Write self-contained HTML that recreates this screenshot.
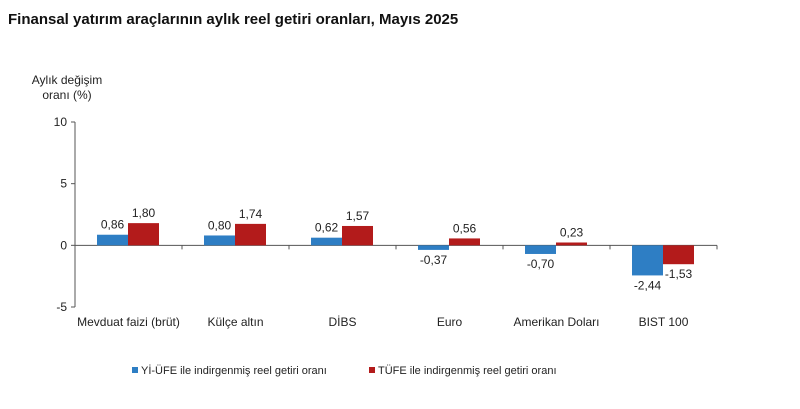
<!DOCTYPE html>
<html><head><meta charset="utf-8"><style>
body{margin:0;background:#fff;width:800px;height:404px;overflow:hidden;font-family:"Liberation Sans",Arial,sans-serif}
</style></head><body>
<svg width="800" height="404" xmlns="http://www.w3.org/2000/svg" font-family="Liberation Sans, Arial, sans-serif">
<text x="8" y="24" font-size="15" font-weight="bold" fill="#111">Finansal yatırım araçlarının aylık reel getiri oranları, Mayıs 2025</text>
<text x="67" y="84" font-size="12" fill="#222" text-anchor="middle">Aylık değişim</text>
<text x="67" y="99" font-size="12" fill="#222" text-anchor="middle">oranı (%)</text>
<g id="plot"></g>
<g>
<rect x="132" y="367" width="6" height="6" fill="#2e7ec4"/>
<text x="141" y="374" font-size="11" fill="#222">Yİ-ÜFE ile indirgenmiş reel getiri oranı</text>
<rect x="369" y="367" width="6" height="6" fill="#b31b1b"/>
<text x="378" y="374" font-size="11" fill="#222">TÜFE ile indirgenmiş reel getiri oranı</text>
</g>
</svg>
<script>
const categories=["Mevduat faizi (brüt)","Külçe altın","DİBS","Euro","Amerikan Doları","BIST 100"];
const yiufe=[0.86,0.80,0.62,-0.37,-0.70,-2.44];
const tufe=[1.80,1.74,1.57,0.56,0.23,-1.53];
const yTicks=[10,5,0,-5];
const NS="http://www.w3.org/2000/svg";
const g=document.getElementById('plot');
const x0=75,cw=107,yTop=122,yBot=307,ymax=10,ymin=-5;
const y=v=>yTop+(ymax-v)/(ymax-ymin)*(yBot-yTop);
function el(t,a){const e=document.createElementNS(NS,t);for(const k in a)e.setAttribute(k,a[k]);g.appendChild(e);return e;}
const fmt=v=>v.toFixed(2).replace('.',',');
let ax=el('line',{x1:x0,y1:yTop,x2:x0,y2:yBot,stroke:'#555'});


yTicks.forEach(t=>{
 const l=el('line',{x1:x0-4,x2:x0,y1:y(t),y2:y(t),stroke:'#555'});
 
 
 const tx=el('text',{x:x0-8,y:y(t)+4,'font-size':12,'text-anchor':'end',fill:'#222'});
 tx.textContent=t;
 
 
});
const xEnd=x0+cw*categories.length;
let xa=el('line',{x1:x0,x2:xEnd,y1:y(0),y2:y(0),stroke:'#555'});


categories.forEach((c,i)=>{
 const cx=x0+cw*i;
 const tk=el('line',{x1:cx+cw,x2:cx+cw,y1:y(0),y2:y(0)+4,stroke:'#555'});
 
 
 const lb=el('text',{x:cx+cw/2,y:326,'font-size':12,'text-anchor':'middle',fill:'#222'});
 lb.textContent=c;
 
 
 [[yiufe[i],'#2e7ec4',22,'bar-yiufe'],[tufe[i],'#b31b1b',53,'bar-tufe']].forEach(([v,col,off,nm])=>{
  const top=Math.min(y(v),y(0)),h=Math.abs(y(v)-y(0));
  const r=el('rect',{x:cx+off,y:top,width:31,height:h,fill:col});
  
  
  const vl=el('text',{x:cx+off+15.5,y:v>=0?top-6:top+h+14,'font-size':12,'text-anchor':'middle',fill:'#222'});
  vl.textContent=fmt(v);
  
  
 });
});
</script>
</body></html>
